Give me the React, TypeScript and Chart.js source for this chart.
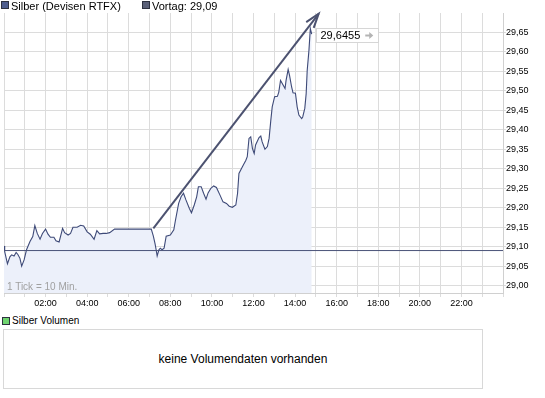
import React, { useEffect, useRef } from 'react';
import { Chart, registerables } from 'chart.js';

Chart.register(...registerables);

// ---- data ----
const timesMin = [0,2,10,17,22,29,35,40,46,51,58,65,75,83,89,96,104,111,120,127,134,144,150,159,166,169,175,185,192,199,211,221,230,240,249,260,268,276,286,295,305,319,425,431,436,439,442,447,451,456,462,468,480,490,494,504,511,518,525,535,541,549,556,561,569,576,583,589,597,605,613,623,632,642,650,659,669,674,678,688,698,702,707,712,717,722,726,736,741,745,753,760,765,770,774,781,789,793,798,803,811,814,820,824,830,834,841,846,851,859,862,868,872,875,880,884,888];
const prices = [29.102,29.087,29.056,29.074,29.079,29.076,29.085,29.080,29.070,29.050,29.066,29.092,29.113,29.126,29.154,29.134,29.119,29.134,29.145,29.132,29.124,29.124,29.115,29.112,29.136,29.147,29.136,29.130,29.134,29.150,29.150,29.155,29.153,29.138,29.132,29.119,29.141,29.133,29.134,29.134,29.136,29.145,29.145,29.127,29.107,29.092,29.076,29.092,29.096,29.092,29.096,29.127,29.130,29.143,29.164,29.211,29.228,29.237,29.220,29.198,29.187,29.207,29.228,29.254,29.254,29.237,29.222,29.238,29.250,29.256,29.252,29.233,29.215,29.211,29.204,29.201,29.207,29.237,29.288,29.305,29.322,29.331,29.378,29.382,29.352,29.339,29.361,29.380,29.384,29.369,29.350,29.357,29.378,29.425,29.459,29.485,29.486,29.497,29.527,29.519,29.506,29.527,29.555,29.540,29.510,29.495,29.494,29.459,29.438,29.429,29.433,29.455,29.493,29.553,29.604,29.660,29.6455];
const vortag = 29.09;
const lastPrice = 29.6455;
const trendTimes = [431, 908];
const trendValues = [29.147, 29.698];
const dayStart = 0;
const dayEnd = 1440;
const yMin = 28.981;
const yMax = 29.7;
const yStep = 0.05;
const xStep = 60;

const FONT = '"Liberation Sans", Arial, sans-serif';

const pad2 = (n: number) => (n < 10 ? '0' : '') + n;

const arrowHeadPlugin = {
  id: 'arrowHead',
  afterDatasetsDraw(chart: any) {
    const meta = chart.getDatasetMeta(2);
    const pts = meta.data;
    if (!pts || pts.length < 2) return;
    const a = pts[pts.length - 2];
    const b = pts[pts.length - 1];
    const ang = Math.atan2(a.y - b.y, a.x - b.x);
    const L = 15;
    const spread = 0.32;
    const ctx = chart.ctx;
    ctx.save();
    ctx.strokeStyle = '#4c5270';
    ctx.lineWidth = 2;
    ctx.beginPath();
    ctx.moveTo(b.x + L * Math.cos(ang + spread), b.y + L * Math.sin(ang + spread));
    ctx.lineTo(b.x, b.y);
    ctx.lineTo(b.x + L * Math.cos(ang - spread), b.y + L * Math.sin(ang - spread));
    ctx.stroke();
    ctx.restore();
  },
};

const lastLabelPlugin = {
  id: 'lastLabel',
  afterDatasetsDraw(chart: any) {
    const meta = chart.getDatasetMeta(0);
    const pt = meta.data[meta.data.length - 1];
    if (!pt) return;
    const ctx = chart.ctx;
    ctx.save();
    ctx.font = '11px ' + FONT;
    const text = lastPrice.toFixed(4).replace('.', ',');
    const tw = ctx.measureText(text).width;
    const x0 = Math.round(pt.x) + 4.5;
    const yc = Math.round(pt.y) + 1.5;
    const h = 14;
    const w = Math.round(tw) + 22;
    ctx.fillStyle = '#ffffff';
    ctx.fillRect(x0, yc - h / 2, w, h);
    ctx.strokeStyle = '#d6d6d6';
    ctx.lineWidth = 1;
    ctx.strokeRect(x0, yc - h / 2, w, h);
    ctx.fillStyle = '#000';
    ctx.textBaseline = 'middle';
    ctx.textAlign = 'left';
    ctx.fillText(text, x0 + 4, yc + 0.5);
    // gray arrow
    const ax = x0 + 4 + tw + 5;
    ctx.strokeStyle = '#b4b4b4';
    ctx.fillStyle = '#b4b4b4';
    ctx.lineWidth = 2;
    ctx.beginPath();
    ctx.moveTo(ax, yc);
    ctx.lineTo(ax + 5, yc);
    ctx.stroke();
    ctx.beginPath();
    ctx.moveTo(ax + 4, yc - 3.5);
    ctx.lineTo(ax + 8, yc);
    ctx.lineTo(ax + 4, yc + 3.5);
    ctx.closePath();
    ctx.fill();
    ctx.restore();
  },
};

function PriceChart() {
  const ref = useRef<HTMLCanvasElement | null>(null);
  useEffect(() => {
    if (!ref.current) return;
    const chart = new Chart(ref.current, {
      type: 'line',
      data: {
        datasets: [
          {
            label: 'Silber (Devisen RTFX)',
            data: timesMin.map((t, i) => ({ x: t, y: prices[i] })),
            borderColor: '#3e4a78',
            borderWidth: 1.1,
            backgroundColor: 'rgba(236,240,250,1)',
            fill: 'start',
            pointRadius: 0,
            tension: 0,
            order: 3,
          },
          {
            label: 'Vortag',
            data: [{ x: dayStart, y: vortag }, { x: dayEnd, y: vortag }],
            borderColor: '#4a5278',
            borderWidth: 1,
            pointRadius: 0,
            fill: false,
            order: 2,
          },
          {
            label: 'Trend',
            data: trendTimes.map((t, i) => ({ x: t, y: trendValues[i] })),
            borderColor: '#4c5270',
            borderWidth: 2,
            pointRadius: 0,
            fill: false,
            order: 1,
          },
        ],
      },
      options: {
        animation: false,
        responsive: false,
        devicePixelRatio: 1,
        layout: { padding: { left: 4, top: 13, right: 0, bottom: 0 } },
        plugins: {
          legend: { display: false },
          tooltip: { enabled: false },
        },
        scales: {
          x: {
            type: 'linear',
            min: dayStart,
            max: dayEnd,
            afterFit: (s: any) => { s.height = 19; },
            grid: { color: '#dcdcdc', tickLength: 4, drawTicks: true },
            border: { display: true, color: '#d0d0d0' },
            ticks: {
              stepSize: xStep,
              autoSkip: false,
              maxRotation: 0,
              padding: 1,
              color: '#000',
              font: { family: FONT, size: 9 },
              callback: (v: any) => {
                const n = Number(v);
                if (n <= dayStart || n >= dayEnd || n % 120 !== 0) return '';
                return pad2(n / 60) + ':00';
              },
            },
          },
          y: {
            type: 'linear',
            position: 'right',
            min: yMin,
            max: yMax,
            afterFit: (s: any) => { s.width = 42; },
            grid: { color: '#dcdcdc', tickLength: 3, drawTicks: true },
            border: { display: true, color: '#d0d0d0' },
            ticks: {
              stepSize: yStep,
              includeBounds: false,
              autoSkip: false,
              padding: 0,
              color: '#000',
              font: { family: FONT, size: 9 },
              callback: (v: any) => {
                const n = Number(v);
                if (n > yMax - 0.01) return '';
                return n.toFixed(2).replace('.', ',');
              },
            },
          },
        },
      },
      plugins: [arrowHeadPlugin, lastLabelPlugin],
    } as any);
    return () => chart.destroy();
  }, []);
  return (
    <canvas
      ref={ref}
      width={545}
      height={312}
      style={{ position: 'absolute', left: 0, top: 0, width: 545, height: 312 }}
    />
  );
}

const sq = (bg: string): React.CSSProperties => ({
  position: 'absolute',
  width: 6,
  height: 6,
  background: bg,
  border: '1px solid #2e3240',
});

export default function App() {
  return (
    <div
      style={{
        position: 'absolute',
        left: 0,
        top: 0,
        width: 545,
        height: 398,
        background: '#fff',
        fontFamily: FONT,
        overflow: 'hidden',
      }}
    >
      <PriceChart />
      <div style={{ ...sq('#4e5d8e'), left: 1, top: 1 }} />
      <div style={{ position: 'absolute', left: 11, top: 0, fontSize: 11, lineHeight: '13px', color: '#000', whiteSpace: 'nowrap' }}>
        Silber (Devisen RTFX)
      </div>
      <div style={{ ...sq('#5a6078'), left: 142, top: 1 }} />
      <div style={{ position: 'absolute', left: 152, top: 0, fontSize: 11, lineHeight: '13px', color: '#000', whiteSpace: 'nowrap' }}>
        Vortag: 29,09
      </div>
      <div style={{ position: 'absolute', left: 7, top: 281, fontSize: 10, lineHeight: '12px', color: '#a0a0a0', whiteSpace: 'nowrap' }}>
        1 Tick = 10 Min.
      </div>
      <div style={{ ...sq('#6fd46f'), left: 2, top: 317 }} />
      <div style={{ position: 'absolute', left: 12, top: 315, fontSize: 10, lineHeight: '12px', color: '#000', whiteSpace: 'nowrap' }}>
        Silber Volumen
      </div>
      <div
        style={{
          position: 'absolute',
          left: 3,
          top: 329,
          width: 478,
          height: 58,
          border: '1px solid #d8d8d8',
          display: 'flex',
          alignItems: 'center',
          justifyContent: 'center',
          fontSize: 12,
          color: '#000',
        }}
      >
        keine Volumendaten vorhanden
      </div>
    </div>
  );
}
